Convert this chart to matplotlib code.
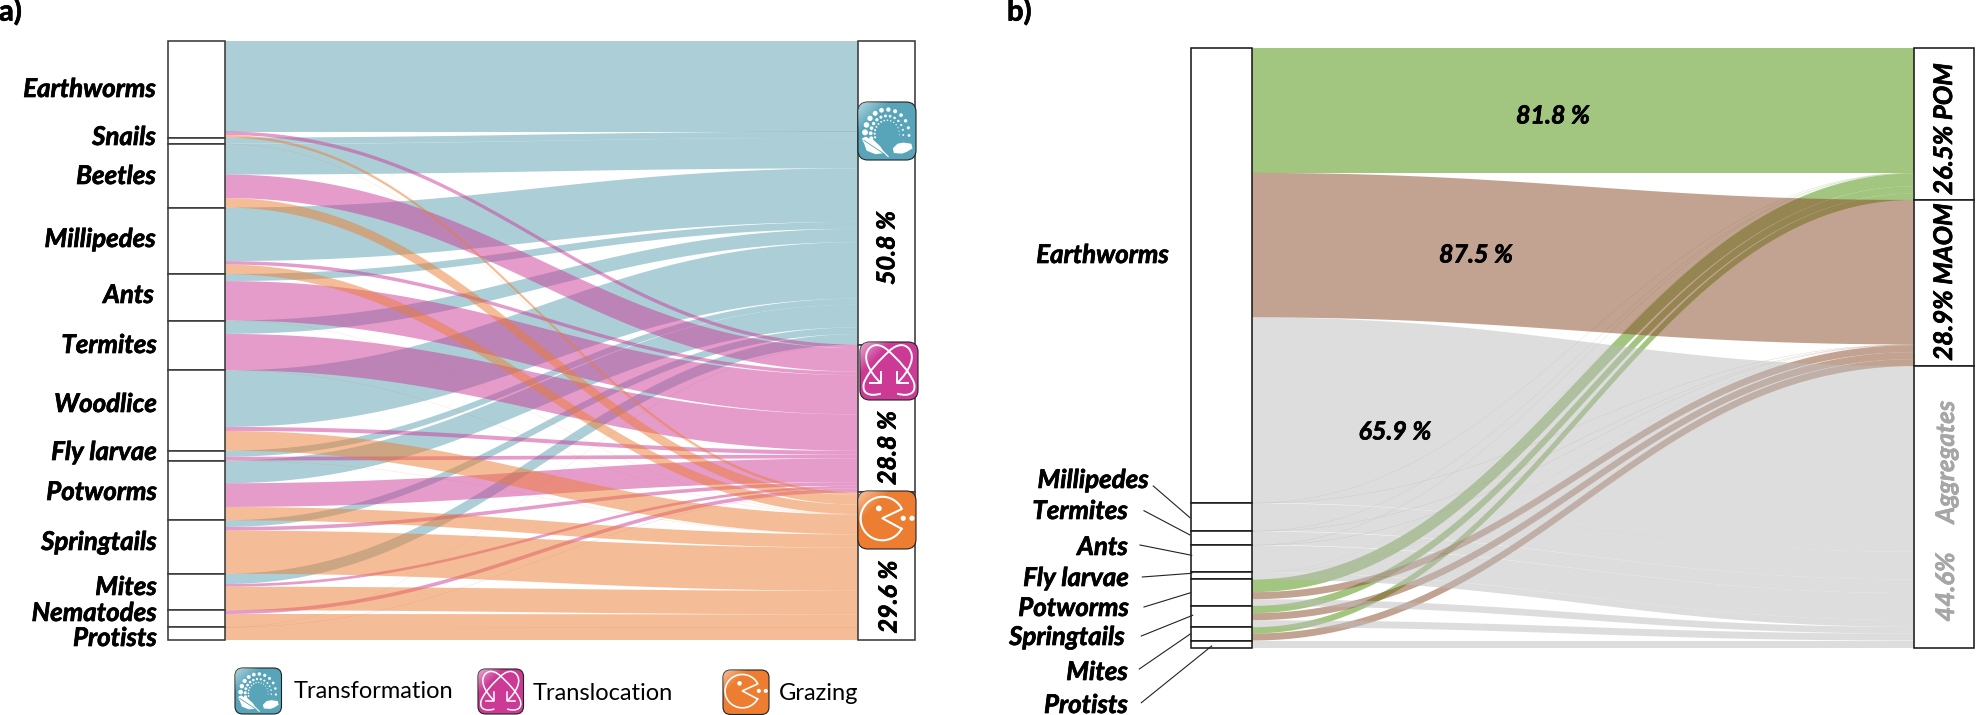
import numpy as np
import matplotlib
matplotlib.use("Agg")
import matplotlib.pyplot as plt
import matplotlib.patheffects as pe
from matplotlib.patches import PathPatch, Rectangle, FancyBboxPatch, Circle, Polygon
from matplotlib.path import Path

# ---------- data (flow sizes, share of the total column height) ----------
groups_a = ["Earthworms", "Snails", "Beetles", "Millipedes", "Ants", "Termites", "Woodlice",
            "Fly larvae", "Potworms", "Springtails", "Mites", "Nematodes", "Protists"]
transformation = [90.5, 6.3, 30.5, 53.5, 7.0, 13.3, 56.5, 6.1, 22.6, 6.7, 10.3, 0.0, 0.2]
translocation = [3.5, 0.0, 23.5, 3.5, 39.3, 36.3, 4.0, 3.7, 23.7, 3.6, 2.7, 3.7, 0.2]
grazing = [2.5, 0.2, 9.5, 9.5, 0.2, 0.2, 19.7, 0.2, 13.3, 43.1, 23.6, 13.0, 12.6]
labels_a = ["50.8 %", "28.8 %", "29.6 %"]

groups_b = ["Earthworms", "Millipedes", "Termites", "Ants", "Fly larvae", "Potworms",
            "Springtails", "Mites", "Protists"]
pom = [124.7, 0.2, 0.2, 0.2, 0.1, 12.7, 7.3, 6.3, 0.0]
maom = [144.3, 0.2, 0.2, 0.2, 0.1, 7.0, 7.0, 7.0, 0.0]
aggregates = [185.3, 27.6, 13.6, 27.0, 6.8, 6.7, 7.0, 0.0, 7.4]

plt.rcParams["font.family"] = ["Lato", "DejaVu Sans"]
W, H = 1976, 715
KNOT = 0.42
fig = plt.figure(figsize=(W / 100, H / 100), dpi=100, facecolor="white")


def panel(x0, x1, y0, y1, total):
    ax = fig.add_axes([x0 / W, 1 - y1 / H, (x1 - x0) / W, (y1 - y0) / H])
    ax.set_xlim(0, x1 - x0)
    ax.set_ylim(total, 0)
    ax.axis("off")
    ax.patch.set_alpha(0)
    return ax


def link_polygon(xa, xb, ya, yb, v):
    t = np.linspace(0, 1, 90)[:, None]
    P = np.array([[xa, ya], [xa + KNOT * (xb - xa), ya], [xb - KNOT * (xb - xa), yb], [xb, yb]])
    c = (1 - t) ** 3 * P[0] + 3 * t * (1 - t) ** 2 * P[1] + 3 * t ** 2 * (1 - t) * P[2] + t ** 3 * P[3]
    d = 3 * (1 - t) ** 2 * (P[1] - P[0]) + 6 * t * (1 - t) * (P[2] - P[1]) + 3 * t ** 2 * (P[3] - P[2])
    d = d / np.linalg.norm(d, axis=1, keepdims=True)
    n = np.column_stack([-d[:, 1], d[:, 0]])
    half = v / 2 * np.sqrt(np.abs(d[:, 0]))[:, None]
    return np.vstack([c + n * half, (c - n * half)[::-1]])


def sankey(ax, series, colors, draw_order, bar_w, x_right, edge):
    series = [np.asarray(s, float) for s in series]
    node_sizes = sum(series)
    node_tops = np.concatenate([[0], np.cumsum(node_sizes)])
    totals = [s.sum() for s in series]
    right_tops = np.concatenate([[0], np.cumsum(totals)])
    segs = {}
    for k in range(len(series)):
        segs[k] = []
        ry = right_tops[k]
        for i in range(len(node_sizes)):
            v = series[k][i]
            ly = node_tops[i] + sum(series[j][i] for j in range(k))
            if v > 0:
                segs[k].append((ly + v / 2, ry + v / 2, v))
            ry += v
    for z, k in enumerate(draw_order):
        for yl, yr, v in segs[k]:
            ax.add_patch(Polygon(link_polygon(bar_w, x_right, yl, yr, v), closed=True, fc=colors[k],
                                 ec="none", alpha=0.5, zorder=2 + z, clip_on=False))
    for i in range(len(node_sizes)):
        ax.add_patch(Rectangle((0, node_tops[i]), bar_w, node_sizes[i], fc="white", ec=edge,
                               lw=1.15, zorder=10, clip_on=False))
    for k in range(len(series)):
        ax.add_patch(Rectangle((x_right, right_tops[k]), bar_w, totals[k], fc="white", ec=edge,
                               lw=1.15, zorder=10, clip_on=False))


# panel a
tot_a = sum(transformation) + sum(translocation) + sum(grazing)
ax_a = panel(168, 916, 41, 640, tot_a)
sankey(ax_a, [transformation, translocation, grazing], ["#589FB1", "#CC3A96", "#ED7D31"],
       [0, 1, 2], 57, 690, "#3a3a3a")

# panel b
tot_b = sum(pom) + sum(maom) + sum(aggregates)
ax_b = panel(1191, 1975, 48, 648, tot_b)
sankey(ax_b, [pom, maom, aggregates], ["#478D01", "#874725", "#BDBDBD"],
       [0, 1, 2], 60.5, 722.5, "#1a1a1a")

# overlay in pixel space for text and icons
ov = fig.add_axes([0, 0, 1, 1], zorder=20)
ov.set_xlim(0, W)
ov.set_ylim(H, 0)
ov.axis("off")
ov.patch.set_alpha(0)

FX = [pe.withStroke(linewidth=0.5, foreground="black")]
BI = dict(fontweight="bold", fontstyle="italic", color="black", path_effects=FX)
ylab_a = [89, 137, 176, 239, 295, 345, 404, 452, 492, 542, 587, 613, 638]
xlab_a = [156, 156, 156, 156, 154, 157, 157, 157, 157, 157, 157, 157, 157]
for name, x, y in zip(groups_a, xlab_a, ylab_a):
    ov.text(x, y, name, ha="right", va="center", fontsize=18.6, **BI)

ylab_b = [255, 480, 511, 547, 578, 608, 637, 672, 705]
xlab_b = [1169, 1149, 1128, 1128, 1129, 1129, 1125, 1128, 1128]
for name, x, y in zip(groups_b, xlab_b, ylab_b):
    ov.text(x, y, name, ha="right", va="center", fontsize=18.6, **BI)

leaders = [((1153.3, 486), (1190, 517.7)), ((1144, 510.7), (1190, 535)), ((1140, 545), (1191.7, 555.3)),
           ((1142.3, 577), (1191.7, 573.3)), ((1144, 607), (1190.7, 592.7)), ((1141.3, 636), (1192.7, 615.3)),
           ((1139.3, 669), (1190.7, 633.7)), ((1141.3, 702.7), (1211.7, 646))]
for (xa, ya), (xb, yb) in leaders:
    ov.plot([xa, xb], [ya, yb], color="#222222", lw=0.8, zorder=30)

for txt, x, y in zip(labels_a, [887, 888, 889], [248, 448, 597]):
    ov.text(x, y, txt, rotation=90, ha="center", va="center", fontsize=18, zorder=30, **BI)

for txt, x, y in [("81.8 %", 1553, 116), ("87.5 %", 1476, 255), ("65.9 %", 1395, 432)]:
    ov.text(x, y, txt, ha="center", va="center", fontsize=18, zorder=30, **BI)

ov.text(1944, 129, "26.5% POM", rotation=90, ha="center", va="center", fontsize=18.5, zorder=30, **BI)
ov.text(1944, 282, "28.9% MAOM", rotation=90, ha="center", va="center", fontsize=18.5, zorder=30, **BI)
GR = dict(fontweight="bold", fontstyle="italic", color="#A6A6A6",
          path_effects=[pe.withStroke(linewidth=0.5, foreground="#A6A6A6")])
ov.text(1946, 462, "Aggregates", rotation=90, ha="center", va="center", fontsize=18.5, zorder=30, **GR)
ov.text(1946, 587, "44.6%", rotation=90, ha="center", va="center", fontsize=18.5, zorder=30, **GR)

ov.text(-1, 12, "a)", ha="left", va="center", fontsize=21, fontweight="bold", path_effects=FX)
ov.text(1007, 12, "b)", ha="left", va="center", fontsize=21, fontweight="bold", path_effects=FX)

ov.text(294, 691, "Transformation", ha="left", va="center", fontsize=17)
ov.text(533, 694, "Translocation", ha="left", va="center", fontsize=17)
ov.text(779, 693, "Grazing", ha="left", va="center", fontsize=17)


# ---------- icons ----------
def icon(kind, x0, y0, x1, y1):
    w, h = x1 - x0, y1 - y0
    Z = 31
    col = {"t": "#58A5B9", "p": "#CC3A96", "o": "#ED7D31"}[kind]
    box = FancyBboxPatch((x0 + 0.2 * w, y0 + 0.2 * h), 0.6 * w, 0.6 * h,
                         boxstyle=f"round,pad={0.2 * w},rounding_size={0.17 * w}",
                         fc=col, ec="#222222", lw=0.8, zorder=Z, mutation_aspect=h / w)
    ov.add_patch(box)
    # soft highlight in the top-left corner
    uu, vv = np.meshgrid(np.linspace(0, 1, 40), np.linspace(0, 1, 40))
    a = np.clip(0.55 - (uu + vv) * 1.0, 0, 1)
    rgba = np.dstack([np.ones_like(a)] * 3 + [a])
    im = ov.imshow(rgba, extent=(x0, x1, y1, y0), aspect="auto", zorder=Z + 0.1, interpolation="bilinear")
    im.set_clip_path(box)
    P = lambda u, v: (x0 + u * w, y0 + v * h)
    sc = w / 58.0
    if kind == "t":
        for frac, radius, n in [(1.0, 3.1, 12), (0.74, 2.0, 13), (0.56, 1.1, 14)]:
            for ang in np.linspace(np.pi * 1.08, -0.02 * np.pi, n):
                s = radius * (0.45 + 0.55 * (ang - (-0.02 * np.pi)) / (1.1 * np.pi))
                x, y = P(0.5 + 0.38 * frac * np.cos(ang), 0.55 - 0.42 * frac * np.sin(ang))
                ov.add_patch(Circle((x, y), s * sc, fc="white", ec="none", zorder=Z + 1))
        leaf = [(0.07, 0.62), (0.25, 0.64), (0.38, 0.76), (0.46, 0.88), (0.30, 0.90), (0.15, 0.84)]
        ov.add_patch(Polygon([P(*q) for q in leaf], closed=True, fc="white", ec="none", zorder=Z + 1))
        ov.plot(*zip(P(0.10, 0.66), P(0.52, 0.94)), color=col, lw=0.6, zorder=Z + 2)
        ov.plot(*zip(P(0.44, 0.86), P(0.52, 0.94)), color="white", lw=0.8, zorder=Z + 2)
        cloud = [(0.60, 0.80), (0.68, 0.72), (0.78, 0.70), (0.92, 0.72), (0.94, 0.80),
                 (0.84, 0.86), (0.76, 0.89), (0.62, 0.88)]
        ov.add_patch(Polygon([P(*q) for q in cloud], closed=True, fc="white", ec="none", zorder=Z + 1))
    elif kind == "p":
        for sign in (0, 1):
            M = (lambda u, v: P(u, v)) if sign == 0 else (lambda u, v: P(1 - u, v))
            verts = [M(.35, .70), M(.15, .50), M(.02, .25), M(.17, .10), M(.28, .0), M(.42, .08), M(.50, .16),
                     M(.65, .30), M(.85, .50), M(.93, .70), M(.98, .88), M(.85, .95), M(.64, .89)]
            codes = [Path.MOVETO] + [Path.CURVE4] * 12
            ov.add_patch(PathPatch(Path(verts, codes), fc="none", ec="white", lw=1.4 * sc, zorder=Z + 1))
            ov.plot(*zip(M(.355, .52), M(.355, .70), M(.18, .70)), color="white", lw=1.4 * sc, zorder=Z + 1)
    else:
        a0, a1 = np.arctan2(0.64 - 0.475, 0.73 - 0.42), 2 * np.pi + np.arctan2(0.28 - 0.475, 0.82 - 0.42)
        th = np.linspace(a0, a1, 80)
        xs = [P(0.42 + 0.375 * np.cos(t), 0.475 + 0.375 * np.sin(t)) for t in th]
        pts = xs + [P(0.42, 0.47)] + [xs[0]]
        ov.plot(*zip(*pts), color="white", lw=1.5 * sc, zorder=Z + 1)
        for u, v, r in [(.36, .30, 2.9), (.78, .47, 2.6), (.93, .47, 2.6)]:
            ov.add_patch(Circle(P(u, v), r * sc, fc="white", ec="none", zorder=Z + 1))


icon("t", 858, 102, 916, 160)
icon("p", 860, 342, 918, 400)
icon("o", 858, 491, 916, 549)
icon("t", 235, 668, 281.5, 714)
icon("p", 478, 669, 523.5, 714)
icon("o", 723, 670, 769, 714.5)

ov.set_xlim(0, W)
ov.set_ylim(H, 0)
fig.savefig("out.png", dpi=100, facecolor="white")
